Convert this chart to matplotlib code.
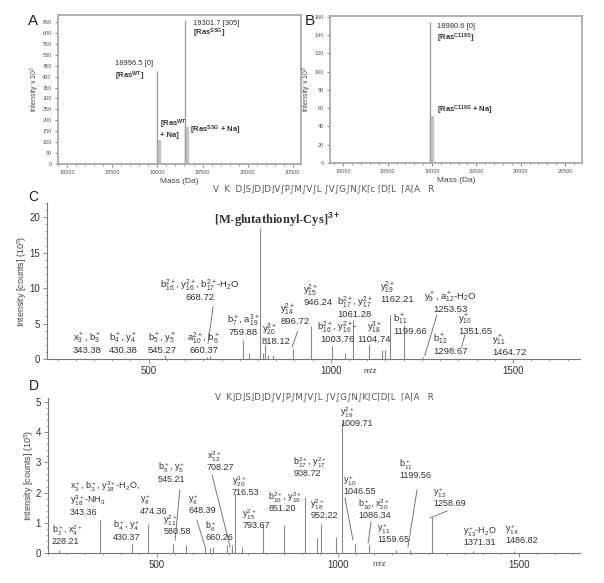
import matplotlib
matplotlib.use("Agg")
import matplotlib.pyplot as plt
from matplotlib.ticker import MultipleLocator

plt.rcParams['font.family'] = ['Liberation Sans', 'DejaVu Sans']
plt.rcParams['mathtext.fontset'] = 'custom'
plt.rcParams['mathtext.rm'] = 'Liberation Sans'
plt.rcParams['mathtext.it'] = 'Liberation Sans:italic'
plt.rcParams['mathtext.bf'] = 'Liberation Sans:bold'

# ---- panel A / B : deconvoluted intact masses (Da, intensity x10^3)
massA_main = [18996.5, 19301.7]
intA_main = [427, 659]
massA_na = [19018.5, 19323.7]
intA_na = [110, 171]

massB_main = [18980.6]
intB_main = [154]
massB_na = [19002.6]
intB_na = [51]

# ---- panel C : MS/MS of glutathionylated peptide
mzC = [545.27, 660.37, 668.72, 759.88, 776.5, 806.0, 813.0, 818.12, 828.7, 842.4,
       896.72, 946.24, 1003.76, 1039.0, 1061.28, 1104.74, 1139.8, 1149.0,
       1162.21, 1199.66, 1253.53]
intC = [0.6, 0.3, 0.4, 2.7, 0.8, 18.5, 0.8, 2.0, 0.6, 0.6,
        1.4, 4.6, 1.8, 0.8, 5.5, 2.0, 1.3, 1.3,
        6.2, 4.8, 0.3]

labelsC = [r"x$_3^+$, b$_3^+$" + "\n343.38",
           r"b$_4^+$, y$_4^+$" + "\n430.38",
           r"b$_5^+$, y$_5^+$" + "\n545.27",
           r"a$_{10}^{2+}$, b$_6^+$" + "\n660.37",
           r"b$_{16}^{2+}$, y$_{16}^{2+}$, b$_{17}^{2+}$-H$_2$O" + "\n668.72",
           r"b$_7^+$, a$_{19}^{3+}$" + "\n759.88",
           r"y$_{20}^{3+}$" + "\n818.12",
           r"y$_{14}^{2+}$" + "\n896.72",
           r"y$_{15}^{2+}$" + "\n946.24",
           r"b$_{17}^{2+}$, y$_{17}^{2+}$" + "\n1061.28",
           r"b$_{16}^{2+}$, y$_{16}^{2+}$-" + "\n1003.76",
           r"y$_{18}^{3+}$" + "\n1104.74",
           r"y$_{19}^{2+}$" + "\n1162.21",
           r"b$_{11}^+$" + "\n1199.66",
           r"y$_9^+$, a$_{12}^+$-H$_2$O" + "\n1253.53",
           r"y$_{10}^+$" + "\n1351.65",
           r"b$_{12}^+$" + "\n1298.67",
           r"y$_{11}^+$" + "\n1464.72"]
labC_x = [332, 430, 538, 651, 641, 760, 811, 861, 924, 1066, 1017, 1119, 1135, 1171, 1327, 1349, 1280, 1442]
labC_y = [0.5, 0.5, 0.5, 0.5, 8.0, 3.1, 1.8, 4.6, 7.3, 5.6, 2.1, 2.1, 7.7, 3.3, 6.3, 3.2, 0.4, 0.3]
labC_ha = ['center', 'center', 'center', 'center', 'center', 'center', 'left', 'left', 'left',
           'center', 'center', 'center', 'left', 'left', 'center', 'left', 'left', 'left']
leadC = [((677, 7.4), (663, 2.2)), ((909, 3.9), (894, 1.7)),
         ((1291, 6.2), (1258, 0.5)), ((1368, 3.4), (1359, 1.7))]

# ---- panel D : MS/MS of unmodified peptide
mzD = [228.21, 343.36, 430.37, 474.36, 545.21, 580.58, 632.6, 646.0, 654.7, 692.5, 706.0,
       716.53, 734.0, 793.67, 851.20, 908.72, 941.0, 952.22, 994.5, 1009.71,
       1046.55, 1086.34, 1159.65, 1199.56, 1258.69, 1371.31, 1486.82]
intD = [0.1, 1.08, 0.3, 0.96, 0.3, 0.25, 0.2, 0.15, 0.2, 0.25, 0.25,
        1.95, 0.2, 0.97, 0.92, 1.85, 0.48, 0.97, 0.53, 4.34,
        0.3, 0.25, 0.1, 0.1, 1.19, 0.08, 0.08]

labelsD = [r"b$_2^+$, x$_4^{2+}$" + "\n228.21",
           r"x$_3^+$, b$_3^+$, y$_{18}^{3+}$-H$_2$O," + "\n" + r"y$_{18}^{3+}$-NH$_3$" + "\n343.36",
           r"b$_4^+$, y$_4^+$" + "\n430.37",
           r"y$_8^+$" + "\n474.36",
           r"b$_5^+$, y$_5^+$" + "\n545.21",
           r"y$_{11}^{2+}$" + "\n580.58",
           r"y$_6^+$" + "\n648.39",
           r"b$_6^+$" + "\n660.26",
           r"x$_{13}^{2+}$" + "\n708.27",
           r"y$_{20}^{3+}$" + "\n716.53",
           r"y$_{15}^{2+}$" + "\n793.67",
           r"b$_{16}^{2+}$, y$_{16}^{2+}$" + "\n851.20",
           r"b$_{17}^{2+}$, y$_{17}^{2+}$" + "\n908.72",
           r"y$_{18}^{2+}$" + "\n952.22",
           r"y$_{19}^{2+}$" + "\n1009.71",
           r"y$_{10}^+$" + "\n1046.55",
           r"b$_{10}^+$, x$_{20}^{2+}$" + "\n1086.34",
           r"y$_{11}^+$" + "\n1159.65",
           r"b$_{11}^+$" + "\n1199.56",
           r"y$_{12}^+$" + "\n1258.69",
           r"y$_{13}^+$-H$_2$O" + "\n1371.31",
           r"y$_{14}^+$" + "\n1486.82"]
labD_x = [210, 260, 378, 453, 503, 517, 586, 633, 638, 707, 735, 807, 876, 923, 1005, 1014,
          1055, 1108, 1168, 1262, 1345, 1461]
labD_y = [0.22, 1.2, 0.38, 1.24, 2.3, 0.55, 1.25, 0.35, 2.67, 1.84, 0.75, 1.31, 2.47, 1.08,
          4.13, 1.88, 1.08, 0.29, 2.41, 1.48, 0.19, 0.25]
leadD = [((563, 2.09), (550, 0.43)), ((610, 1.09), (633, 0.2)), ((652, 2.58), (702, 0.2)),
         ((1019, 1.82), (1041, 0.43)), ((1091, 1.03), (1083, 0.33)),
         ((1218, 2.09), (1193, 0.2)), ((1301, 1.39), (1254, 1.16))]

seqC = "V  K  D⌋S⌋D⌋D⌋V∫P∫M∫V∫L ∫V∫G∫N∫K⌈c ⌈D⌈L  ⌈A⌈A   R"
seqD = "V  K⌋D⌋S⌋D⌋D∫V∫P∫M∫V∫L ∫V∫G∫N∫K⌈C⌈D⌈L  ⌈A⌈A   R"

W, H = 604, 583
fig = plt.figure(figsize=(W / 100, H / 100), dpi=100)

def box(l, t, r, b):
    return [l / W, 1 - b / H, (r - l) / W, (b - t) / H]

txt = '#333333'
frame = '#aaaaaa'

# ---------------- A and B
axA = fig.add_axes(box(58, 15, 301, 164))
axB = fig.add_axes(box(330, 16, 582, 163))
for ax in (axA, axB):
    for s in ax.spines.values():
        s.set_color(frame)
        s.set_linewidth(1.3)
    ax.xaxis.set_major_locator(MultipleLocator(500))
    ax.xaxis.set_minor_locator(MultipleLocator(100))
    ax.tick_params(which='major', length=2.5, width=0.6, color='#777', labelsize=4, labelcolor='#555', pad=2)
    ax.tick_params(which='minor', length=1.3, width=0.5, color='#777')
    ax.set_xlabel('Mass (Da)', fontsize=6, color='#444', labelpad=2)
    ax.set_ylabel(r'Intensity x 10$^3$', fontsize=5, color='#444', labelpad=0)

axA.vlines(massA_na, 0, intA_na, color='#c4c4c4', lw=3.2)
axA.vlines(massA_main, 0, intA_main, color='#a0a0a0', lw=1.0)
axA.set_xlim(17900, 20590)
axA.set_ylim(0, 682)
axA.yaxis.set_major_locator(MultipleLocator(50))
axA.text(18531, 462, '18996.5 [0]', fontsize=5.5, color=txt, va='center')
axA.text(18531, 403, r'[Ras$^{\mathbf{WT}}$]', fontsize=5.5, color=txt, va='center', fontweight='bold')
axA.text(19394, 645, '19301.7 [305]', fontsize=5.5, color=txt, va='center')
axA.text(19394, 600, r'[Ras$^{\mathbf{SSG}}$]', fontsize=5.5, color=txt, va='center', fontweight='bold')
axA.text(19030, 165, r'[Ras$^{\mathbf{WT}}$' + '\n+ Na]', fontsize=5.5, color=txt, va='center', fontweight='bold')
axA.text(19360, 156, r'[Ras$^{\mathbf{SSG}}$ + Na]', fontsize=5.5, color=txt, va='center', fontweight='bold')

axB.vlines(massB_na, 0, intB_na, color='#c4c4c4', lw=3.2)
axB.vlines(massB_main, 0, intB_main, color='#a0a0a0', lw=1.0)
axB.set_xlim(17850, 20692)
axB.set_ylim(0, 161)
axB.yaxis.set_major_locator(MultipleLocator(20))
axB.text(19056, 150, '18980.6 [0]', fontsize=5.5, color=txt, va='center')
axB.text(19056, 137, r'[Ras$^{\mathbf{C118S}}$]', fontsize=5.5, color=txt, va='center', fontweight='bold')
axB.text(19056, 58, r'[Ras$^{\mathbf{C118S}}$ + Na]', fontsize=5.5, color=txt, va='center', fontweight='bold')

# ---------------- C and D
axC = fig.add_axes(box(47, 203, 580, 359))
axD = fig.add_axes(box(48, 398, 580, 553))
for ax in (axC, axD):
    for s in ('top', 'right'):
        ax.spines[s].set_visible(False)
    for s in ('left', 'bottom'):
        ax.spines[s].set_color('#777')
        ax.spines[s].set_linewidth(0.8)
    ax.xaxis.set_major_locator(MultipleLocator(500))
    ax.xaxis.set_minor_locator(MultipleLocator(50))
    ax.tick_params(which='major', length=3, width=0.6, color='#777', labelsize=7, labelcolor='#333', pad=2)
    ax.tick_params(which='minor', length=1.5, width=0.5, color='#888')
    ax.set_ylabel(r'Intensity [counts] (10$^5$)', fontsize=6.5, color='#444', labelpad=0)

axC.vlines(mzC, 0, intC, color='#888888', lw=0.8)
axC.set_xlim(221, 1684)
axC.set_ylim(0, 22)
axC.yaxis.set_major_locator(MultipleLocator(5))
axC.yaxis.set_minor_locator(MultipleLocator(1))
for t, x, y, ha in zip(labelsC, labC_x, labC_y, labC_ha):
    axC.text(x, y, t, fontsize=6.8, color=txt, ha=ha, va='bottom', multialignment=ha, linespacing=1.0)
for (p0, p1) in leadC:
    axC.plot([p0[0], p1[0]], [p0[1], p1[1]], color='#777', lw=0.7)
axC.text(680, 19.6, r'[M-glutathionyl-Cys]$^{\mathbf{3+}}$', fontsize=9, fontweight='bold',
         family='Liberation Serif', color='#333', va='center')
axC.text(0.606, -0.083, 'm/z', transform=axC.transAxes, fontsize=6, color='#444', ha='center', va='center')

axD.vlines(mzD, 0, intD, color='#888888', lw=0.8)
axD.set_xlim(199, 1668)
axD.set_ylim(0, 5.13)
axD.yaxis.set_major_locator(MultipleLocator(1))
axD.yaxis.set_minor_locator(MultipleLocator(0.2))
for t, x, y in zip(labelsD, labD_x, labD_y):
    axD.text(x, y, t, fontsize=6.5, color=txt, ha='left', va='bottom', linespacing=0.95)
for (p0, p1) in leadD:
    axD.plot([p0[0], p1[0]], [p0[1], p1[1]], color='#777', lw=0.7)
axD.text(0.622, -0.077, 'm/z', transform=axD.transAxes, fontsize=6, color='#444', ha='center', va='center')

# panel letters and peptide sequences
fig.text(28 / W, 1 - 21 / H, 'A', fontsize=11, color='#222', va='center')
fig.text(305 / W, 1 - 21 / H, 'B', fontsize=11, color='#222', va='center')
fig.text(28 / W, 1 - 197 / H, 'C', fontsize=10, color='#222', va='center')
fig.text(29 / W, 1 - 386 / H, 'D', fontsize=10, color='#222', va='center')
fig.text(213 / W, 1 - 190 / H, seqC, fontsize=6.2, color='#555', va='center', family=['DejaVu Sans'])
fig.text(215 / W, 1 - 397 / H, seqD, fontsize=6.2, color='#555', va='center', family=['DejaVu Sans'])

fig.savefig('out.png', dpi=100)
